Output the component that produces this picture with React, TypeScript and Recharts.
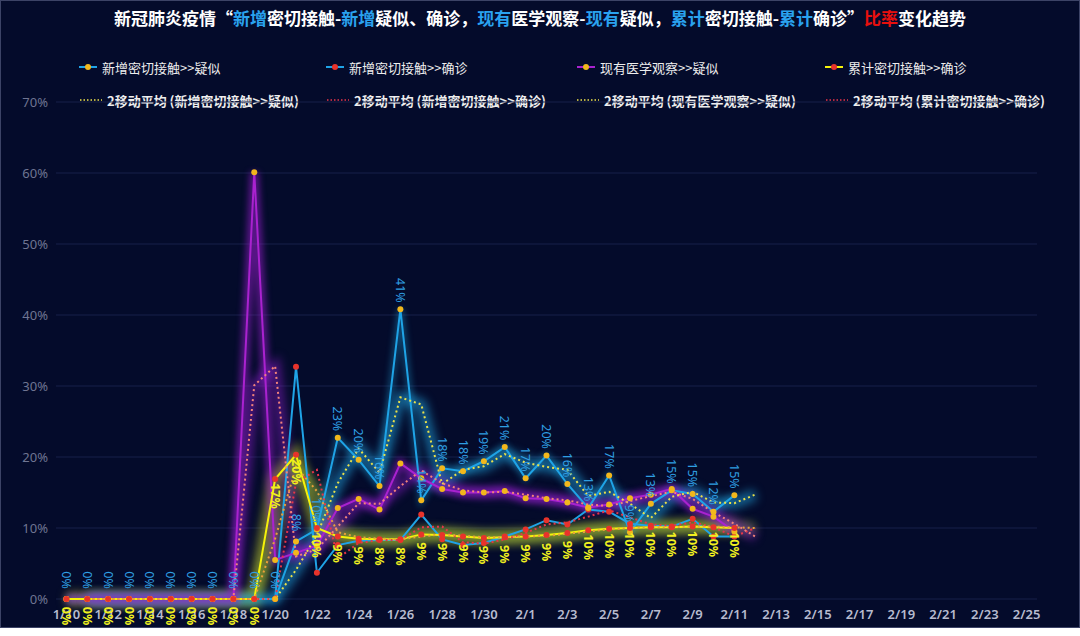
import React from "react";
import { LineChart, Line, XAxis, YAxis, CartesianGrid, LabelList } from "recharts";

const days = [
  "1/10", "1/11", "1/12", "1/13", "1/14", "1/15", "1/16", "1/17", "1/18", "1/19",
  "1/20", "1/21", "1/22", "1/23", "1/24", "1/25", "1/26", "1/27", "1/28", "1/29",
  "1/30", "1/31", "2/1", "2/2", "2/3", "2/4", "2/5", "2/6", "2/7", "2/8",
  "2/9", "2/10", "2/11", "2/12", "2/13", "2/14", "2/15", "2/16", "2/17", "2/18",
  "2/19", "2/20", "2/21", "2/22", "2/23", "2/24", "2/25",
];

// 新增密切接触>>疑似
const newContactSuspect = [
  0, 0, 0, 0, 0, 0, 0, 0, 0, 0, 0, 8.1, 9.8, 22.7, 19.6, 15.9, 40.8, 13.9, 18.4, 18.0,
  19.4, 21.4, 17.0, 20.2, 16.2, 12.8, 17.4, 9.4, 13.4, 15.3, 14.8, 12.3, 14.6,
];
// 新增密切接触>>确诊
const newContactConfirmed = [
  0, 0, 0, 0, 0, 0, 0, 0, 0, 0, 0, 32.7, 3.7, 7.6, 8.2, 8.3, 8.3, 11.9, 8.4, 7.6,
  7.9, 8.8, 9.8, 11.1, 10.5, 12.6, 12.3, 10.6, 10.3, 10.2, 11.3, 8.8, 8.8,
];
// 现有医学观察>>疑似
const observedSuspect = [
  0, 0, 0, 0, 0, 0, 0, 0, 0, 60.1, 5.5, 6.5, 7.5, 12.8, 14.1, 12.6, 19.1, 17.0, 15.5, 15.0,
  15.0, 15.2, 14.2, 14.1, 13.6, 12.9, 13.3, 14.2, 14.7, 15.5, 12.7, 11.6, 9.5,
];
// 累计密切接触>>确诊
const totalContactConfirmed = [
  0, 0, 0, 0, 0, 0, 0, 0, 0, 0, 16.9, 20.3, 10.0, 8.8, 8.5, 8.4, 8.4, 9.1, 9.0, 8.8,
  8.6, 8.7, 8.8, 9.0, 9.3, 9.7, 9.9, 10.0, 10.1, 10.1, 10.2, 10.1, 10.0,
];

// 2移动平均 lines
const maNewSuspect = [
  null, 0, 0, 0, 0, 0, 0, 0, 0, 0, 0, 4.1, 9.0, 16.3, 21.2, 17.8, 28.4, 27.4, 16.2, 18.2,
  18.7, 20.4, 19.2, 18.6, 18.2, 14.5, 15.1, 13.4, 11.4, 14.4, 15.1, 13.6, 13.5, 14.7,
];
const maNewConfirmed = [
  null, 0, 0, 0, 0, 0, 0, 0, 0, 0, 0, 16.4, 18.2, 5.7, 7.9, 8.3, 8.3, 10.1, 10.2, 8.0,
  7.8, 8.4, 9.3, 10.5, 10.8, 11.6, 12.5, 11.5, 10.5, 10.3, 10.8, 10.1, 8.8, 10.0,
];
const maObservedSuspect = [
  null, 0, 0, 0, 0, 0, 0, 0, 0, 30.1, 32.8, 6.0, 7.0, 10.2, 13.5, 13.4, 15.9, 18.1, 16.3, 15.3,
  15.0, 15.1, 14.7, 14.2, 13.9, 13.3, 13.1, 13.8, 14.5, 15.1, 14.1, 12.2, 10.6, 8.8,
];
const maTotalConfirmed = [
  null, 0, 0, 0, 0, 0, 0, 0, 0, 0, 8.5, 18.6, 15.2, 9.4, 8.7, 8.5, 8.4, 8.8, 9.1, 8.9,
  8.7, 8.7, 8.8, 8.9, 9.2, 9.5, 9.8, 10.0, 10.1, 10.1, 10.2, 10.2, 10.1, 10.0,
];

const yTicks = [0, 10, 20, 30, 40, 50, 60, 70];

const data = days.map((day, i) => ({
  day,
  a: newContactSuspect[i] ?? null,
  b: newContactConfirmed[i] ?? null,
  c: observedSuspect[i] ?? null,
  d: totalContactConfirmed[i] ?? null,
  ma: maNewSuspect[i] ?? null,
  mb: maNewConfirmed[i] ?? null,
  mc: maObservedSuspect[i] ?? null,
  md: maTotalConfirmed[i] ?? null,
}));

const BLUE = "#1fa3e6";
const GOLD = "#f2b71c";
const RED = "#e8332b";
const PURPLE = "#a922cf";
const YELLOW = "#f5f20a";
const FONT = '"Noto Sans", "Noto Sans CJK SC", sans-serif';
const CJK = '"Noto Sans CJK SC", sans-serif';

const BlueLabel = (props: any) => {
  const { x, y, value } = props;
  if (value == null || x == null) return null;
  return (
    <text
      transform={`translate(${x},${y - 19}) rotate(90)`}
      textAnchor="middle"
      dominantBaseline="central"
      fill="#2f9fe2"
      fontSize={12.5}
      fontFamily={FONT}
    >
      {Math.round(value)}%
    </text>
  );
};

const YellowLabel = (props: any) => {
  const { x, y, value } = props;
  if (value == null || x == null) return null;
  return (
    <text
      transform={`translate(${x},${y + 17}) rotate(90)`}
      textAnchor="middle"
      dominantBaseline="central"
      fill="#f0f020"
      fontSize={12.5}
      fontWeight="bold"
      fontFamily={FONT}
    >
      {Math.round(value)}%
    </text>
  );
};

const legendTop = [
  { name: "新增密切接触>>疑似", line: BLUE, dot: GOLD, x: 79 },
  { name: "新增密切接触>>确诊", line: BLUE, dot: RED, x: 326 },
  { name: "现有医学观察>>疑似", line: PURPLE, dot: GOLD, x: 577 },
  { name: "累计密切接触>>确诊", line: YELLOW, dot: RED, x: 825 },
];
const legendBottom = [
  { name: "2移动平均 (新增密切接触>>疑似)", color: "#f0e34a", x: 80 },
  { name: "2移动平均 (新增密切接触>>确诊)", color: "#e8354a", x: 327 },
  { name: "2移动平均 (现有医学观察>>疑似)", color: "#f0e34a", x: 577 },
  { name: "2移动平均 (累计密切接触>>确诊)", color: "#e8354a", x: 826 },
];

const glow = (key: string, color: string, width: number, opacity: number, cls: string) => (
  <Line
    key={"g" + key}
    className={cls}
    dataKey={key}
    stroke={color}
    strokeWidth={width}
    strokeOpacity={opacity}
    dot={false}
    activeDot={false}
    legendType="none"
    isAnimationActive={false}
  />
);

export default function App() {
  return (
    <div style={{ position: "relative", width: 1080, height: 636, background: "#fff", fontFamily: FONT }}>
      <style>{`
        body { margin: 0; }
        .glow3 .recharts-curve { filter: blur(3px); }
        .glow5 .recharts-curve { filter: blur(5px); }
      `}</style>
      <div
        style={{
          position: "absolute",
          left: 0,
          top: 0,
          width: 1080,
          height: 628,
          background: "#040b2b",
          boxSizing: "border-box",
          border: "1px solid #3c4366",
        }}
      />
      <div
        style={{
          position: "absolute",
          top: 7,
          left: 0,
          width: 1080,
          textAlign: "center",
          fontSize: 17,
          lineHeight: "22px",
          fontWeight: 700,
          color: "#ffffff",
          fontFamily: CJK,
        }}
      >
        新冠肺炎疫情“<span style={{ color: "#2aa2ef" }}>新增</span>密切接触-<span style={{ color: "#2aa2ef" }}>新增</span>疑似、确诊，
        <span style={{ color: "#2aa2ef" }}>现有</span>医学观察-<span style={{ color: "#2aa2ef" }}>现有</span>疑似，
        <span style={{ color: "#2aa2ef" }}>累计</span>密切接触-<span style={{ color: "#2aa2ef" }}>累计</span>确诊”
        <span style={{ color: "#e8100e" }}>比率</span>变化趋势
      </div>

      {legendTop.map((item) => (
        <div
          key={item.name}
          style={{ position: "absolute", left: item.x, top: 58, height: 18, display: "flex", alignItems: "center" }}
        >
          <svg width={18} height={10}>
            <line x1={0} y1={5} x2={18} y2={5} stroke={item.line} strokeWidth={2} />
            <circle cx={9} cy={5} r={3} fill={item.dot} />
          </svg>
          <span style={{ marginLeft: 5, fontSize: 13, color: "#eeeeee", fontFamily: CJK, whiteSpace: "nowrap" }}>
            {item.name}
          </span>
        </div>
      ))}
      {legendBottom.map((item) => (
        <div
          key={item.name}
          style={{ position: "absolute", left: item.x, top: 91, height: 18, display: "flex", alignItems: "center" }}
        >
          <svg width={22} height={10}>
            <line x1={0} y1={5} x2={22} y2={5} stroke={item.color} strokeWidth={1.5} strokeDasharray="1.5 2" />
          </svg>
          <span
            style={{ marginLeft: 5, fontSize: 13, fontWeight: 700, color: "#eeeeee", fontFamily: CJK, whiteSpace: "nowrap" }}
          >
            {item.name}
          </span>
        </div>
      ))}

      <div style={{ position: "absolute", left: 0, top: 0 }}>
        <LineChart width={1080} height={628} data={data} margin={{ top: 102, right: 43, bottom: 0, left: 6 }}>
          <CartesianGrid vertical={false} stroke="#17204a" strokeWidth={1} />
          <XAxis
            dataKey="day"
            interval={1}
            height={29}
            tickSize={0}
            tickMargin={11}
            axisLine={false}
            padding={{ left: 10.4, right: 10.4 }}
            tick={{ fill: "#b7bbcf", fontSize: 13, fontWeight: 600, fontFamily: FONT }}
          />
          <YAxis
            width={50}
            domain={[0, 70]}
            ticks={yTicks}
            tickSize={0}
            tickMargin={8}
            axisLine={false}
            tickFormatter={(v: number) => `${v}%`}
            tick={{ fill: "#6f7592", fontSize: 13, fontFamily: FONT }}
          />

          {/* glow layers */}
          {glow("d", "#b7c02a", 13, 0.6, "glow5")}
          {glow("md", "#8fb838", 11, 0.5, "glow5")}
          {glow("ma", "#1f9fd8", 11, 0.6, "glow5")}
          {glow("a", "#1f9fd8", 6, 0.4, "glow3")}
          {glow("c", "#9a1ed0", 9, 0.55, "glow3")}
          {glow("mc", "#8a1ec8", 10, 0.55, "glow5")}

          <Line
            dataKey="b"
            stroke={BLUE}
            strokeWidth={2}
            dot={{ r: 3, fill: RED, stroke: "none" }}
            activeDot={false}
            isAnimationActive={false}
          />
          <Line
            dataKey="a"
            stroke={BLUE}
            strokeWidth={2}
            dot={{ r: 3, fill: GOLD, stroke: "none" }}
            activeDot={false}
            isAnimationActive={false}
          >
            <LabelList dataKey="a" content={BlueLabel} />
          </Line>
          <Line
            dataKey="c"
            stroke={PURPLE}
            strokeWidth={2}
            dot={{ r: 3, fill: GOLD, stroke: "none" }}
            activeDot={false}
            isAnimationActive={false}
          />
          <Line
            dataKey="d"
            stroke={YELLOW}
            strokeWidth={2}
            dot={{ r: 3, fill: RED, stroke: "none" }}
            activeDot={false}
            isAnimationActive={false}
          >
            <LabelList dataKey="d" content={YellowLabel} />
          </Line>

          <Line dataKey="ma" stroke="#e9e04a" strokeWidth={2} strokeDasharray="2 3" dot={false} activeDot={false} isAnimationActive={false} />
          <Line dataKey="mb" stroke="#e8354a" strokeWidth={2} strokeDasharray="2 3" dot={false} activeDot={false} isAnimationActive={false} />
          <Line dataKey="mc" stroke="#f2837a" strokeWidth={2} strokeDasharray="2 3" dot={false} activeDot={false} isAnimationActive={false} />
          <Line dataKey="md" stroke="#e9a03a" strokeWidth={2} strokeDasharray="2 3" dot={false} activeDot={false} isAnimationActive={false} />
        </LineChart>
      </div>
    </div>
  );
}
